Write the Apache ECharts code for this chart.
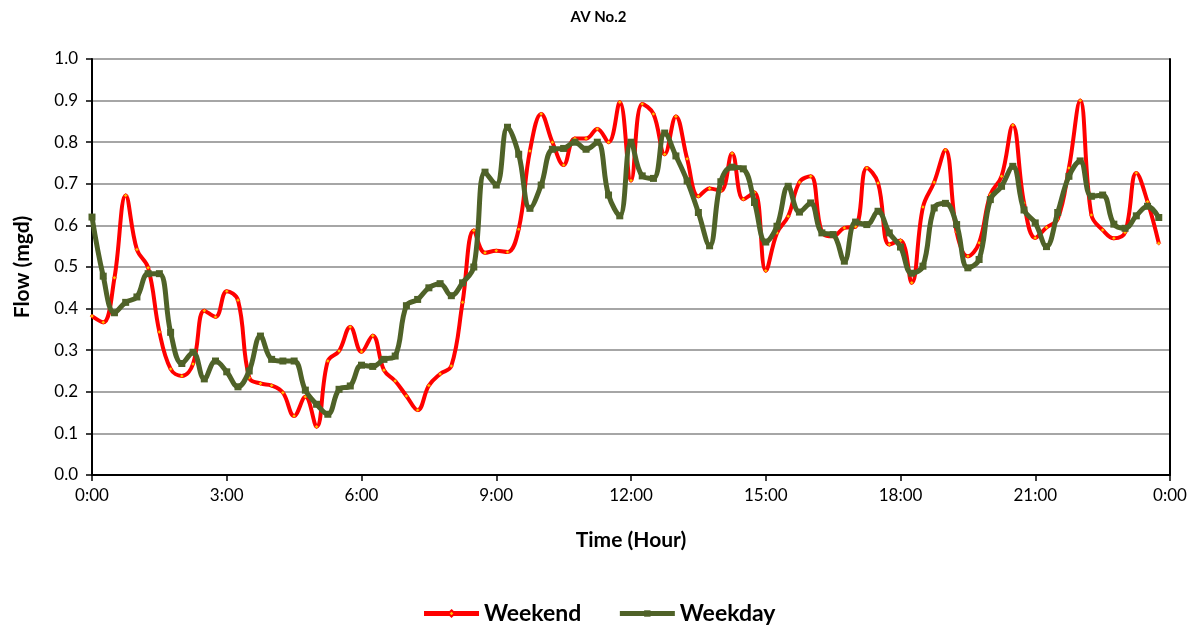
<!DOCTYPE html>
<html>
<head>
<meta charset="utf-8">
<script src="https://cdn.jsdelivr.net/npm/echarts@6/dist/echarts.min.js"></script>
<style>
html,body{margin:0;padding:0;background:#fff;}
#chart{width:1197px;height:626px;}
</style>
</head>
<body>
<div id="chart"></div>
<script>
var categories = [
"0:00","0:15","0:30","0:45","1:00","1:15","1:30","1:45","2:00","2:15","2:30","2:45",
"3:00","3:15","3:30","3:45","4:00","4:15","4:30","4:45","5:00","5:15","5:30","5:45",
"6:00","6:15","6:30","6:45","7:00","7:15","7:30","7:45","8:00","8:15","8:30","8:45",
"9:00","9:15","9:30","9:45","10:00","10:15","10:30","10:45","11:00","11:15","11:30","11:45",
"12:00","12:15","12:30","12:45","13:00","13:15","13:30","13:45","14:00","14:15","14:30","14:45",
"15:00","15:15","15:30","15:45","16:00","16:15","16:30","16:45","17:00","17:15","17:30","17:45",
"18:00","18:15","18:30","18:45","19:00","19:15","19:30","19:45","20:00","20:15","20:30","20:45",
"21:00","21:15","21:30","21:45","22:00","22:15","22:30","22:45","23:00","23:15","23:30","23:45",
"0:00"
];

var weekend = [
0.382,0.367,0.474,0.672,0.542,0.498,0.344,0.255,0.238,0.267,0.395,0.380,
0.442,0.420,0.234,0.220,0.215,0.198,0.142,0.188,0.116,0.274,0.298,0.356,
0.296,0.335,0.252,0.226,0.190,0.156,0.215,0.243,0.262,0.415,0.588,0.534,
0.539,0.536,0.591,0.779,0.868,0.800,0.745,0.809,0.809,0.832,0.800,0.896,
0.708,0.892,0.868,0.771,0.862,0.760,0.670,0.689,0.683,0.773,0.663,0.679,
0.491,0.582,0.622,0.704,0.718,0.584,0.574,0.594,0.597,0.738,0.702,0.554,
0.564,0.462,0.644,0.704,0.781,0.584,0.526,0.558,0.674,0.718,0.841,0.654,
0.570,0.595,0.615,0.738,0.900,0.625,0.589,0.569,0.583,0.726,0.657,0.557
];

var weekday = [
0.620,0.478,0.390,0.415,0.428,0.484,0.484,0.343,0.268,0.295,0.231,0.274,
0.248,0.212,0.250,0.334,0.278,0.274,0.274,0.204,0.170,0.146,0.206,0.214,
0.264,0.261,0.278,0.286,0.407,0.422,0.450,0.460,0.431,0.462,0.500,0.728,
0.697,0.836,0.771,0.641,0.697,0.783,0.785,0.800,0.783,0.800,0.673,0.623,
0.800,0.719,0.713,0.822,0.767,0.707,0.631,0.551,0.705,0.740,0.736,0.655,
0.560,0.598,0.694,0.632,0.654,0.582,0.578,0.514,0.608,0.602,0.634,0.582,
0.548,0.485,0.502,0.642,0.653,0.602,0.498,0.518,0.662,0.694,0.742,0.637,
0.606,0.549,0.631,0.718,0.755,0.670,0.673,0.603,0.593,0.623,0.646,0.619
];

var FONT = 'Lato, "Open Sans", sans-serif';
var chart = echarts.init(document.getElementById('chart'), null, {renderer:'canvas'});
chart.setOption({
  animation: false,
  backgroundColor: '#ffffff',
  title: {
    text: 'AV No.2', left: 'center', top: 5,
    textStyle: {fontFamily: FONT, fontWeight: 'bold', fontSize: 15, color: '#000'}
  },
  legend: {
    top: 597, left: 'center',
    itemWidth: 55, itemHeight: 8, itemGap: 36,
    lineStyle: {width: 5},
    textStyle: {fontFamily: FONT, fontWeight: 'bold', fontSize: 23, color: '#000'},
    data: ['Weekend', 'Weekday']
  },
  grid: {left: 92, right: 27, top: 59, bottom: 151, containLabel: false},
  xAxis: {
    type: 'category', data: categories, boundaryGap: false,
    name: 'Time (Hour)', nameLocation: 'middle', nameGap: 55,
    nameTextStyle: {fontFamily: FONT, fontWeight: 'bold', fontSize: 21, color: '#000'},
    axisLine: {lineStyle: {color: '#000', width: 2}},
    axisTick: {show: true, interval: 11, length: 6, inside: false, lineStyle: {color: '#000', width: 1.5}},
    axisLabel: {interval: 11, fontFamily: FONT, fontSize: 17, color: '#000', margin: 12},
    splitLine: {show: false}
  },
  yAxis: [{
    type: 'value', min: 0, max: 1, interval: 0.1,
    name: 'Flow (mgd)', nameLocation: 'middle', nameGap: 59,
    nameTextStyle: {fontFamily: FONT, fontWeight: 'bold', fontSize: 21, color: '#000'},
    axisLine: {show: true, lineStyle: {color: '#000', width: 2}},
    axisTick: {show: true, length: 6, lineStyle: {color: '#000', width: 1.5}},
    axisLabel: {fontFamily: FONT, fontSize: 17, color: '#000', margin: 14,
      formatter: function (v) { return v.toFixed(1); }},
    splitLine: {show: true, lineStyle: {color: '#a6a6a6', width: 2}}
  }, {
    type: 'value', min: 0, max: 1, interval: 0.1, position: 'right',
    axisLine: {show: true, lineStyle: {color: '#000', width: 2}},
    axisTick: {show: false}, axisLabel: {show: false}, splitLine: {show: false}
  }],
  series: [{
    name: 'Weekend', type: 'line', data: weekend, smooth: 0.4,
    yAxisIndex: 0, z: 2,
    symbol: 'diamond', symbolSize: 4, showSymbol: true,
    lineStyle: {color: '#ff0000', width: 4},
    itemStyle: {color: '#ffc000', borderColor: '#ff0000', borderWidth: 0.5}
  }, {
    name: 'Weekday', type: 'line', data: weekday, smooth: 0.4,
    yAxisIndex: 0, z: 3,
    symbol: 'rect', symbolSize: 7, showSymbol: true,
    lineStyle: {color: '#4f6228', width: 5},
    itemStyle: {color: '#4f6228', borderColor: '#4f6228', borderWidth: 0}
  }]
});
</script>
</body>
</html>
